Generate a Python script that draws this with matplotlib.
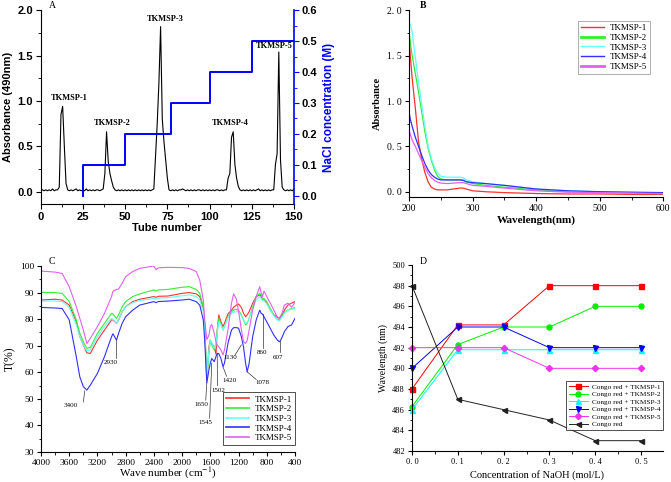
import matplotlib
matplotlib.use("Agg")
import matplotlib.pyplot as plt
from matplotlib.ticker import MultipleLocator, FuncFormatter
import numpy as np

plt.rcParams['mathtext.fontset'] = 'stix'

# ---------------- Panel A data ----------------
tubes = list(range(1, 151))
absorb = [
    0.02, 0.01, 0.02, 0.01, 0.02, 0.01, 0.03, 0.01, 0.02, 0.02,   # 1-10
    0.05, 0.85, 0.94, 0.50, 0.09, 0.02, 0.01, 0.02, 0.01, 0.02,   # 11-20
    0.03, 0.01, 0.02, 0.01, 0.02, 0.01, 0.03, 0.01, 0.02, 0.01,   # 21-30
    0.02, 0.01, 0.02, 0.02, 0.01, 0.02, 0.03, 0.20, 0.66, 0.33,   # 31-40
    0.20, 0.12, 0.05, 0.02, 0.01, 0.02, 0.01, 0.02, 0.01, 0.02,   # 41-50
    0.01, 0.02, 0.01, 0.02, 0.01, 0.02, 0.01, 0.02, 0.01, 0.02,   # 51-60
    0.01, 0.02, 0.01, 0.02, 0.01, 0.02, 0.03, 0.40, 0.75, 1.20,   # 61-70
    1.82, 0.80, 0.55, 0.35, 0.15, 0.02, 0.01, 0.02, 0.01, 0.02,   # 71-80
    0.01, 0.02, 0.02, 0.03, 0.02, 0.01, 0.02, 0.01, 0.02, 0.01,   # 81-90
    0.02, 0.01, 0.02, 0.02, 0.01, 0.02, 0.01, 0.02, 0.01, 0.02,   # 91-100
    0.01, 0.02, 0.01, 0.02, 0.02, 0.01, 0.02, 0.01, 0.02, 0.02,   # 101-110
    0.15, 0.20, 0.60, 0.66, 0.30, 0.15, 0.06, 0.02, 0.01, 0.02,   # 111-120
    0.01, 0.02, 0.01, 0.02, 0.01, 0.02, 0.01, 0.02, 0.03, 0.01,   # 121-130
    0.02, 0.01, 0.02, 0.01, 0.02, 0.01, 0.02, 0.02, 0.30, 0.42,   # 131-140
    1.54, 0.35, 0.05, 0.02, 0.01, 0.02, 0.01, 0.02, 0.01, 0.03,   # 141-150
]
nacl_tube = [25, 25, 50, 50, 77, 77, 100, 100, 125, 125, 150]
nacl_conc = [0.0, 0.1, 0.1, 0.2, 0.2, 0.3, 0.3, 0.4, 0.4, 0.5, 0.5]
peak_names = ["TKMSP-1", "TKMSP-2", "TKMSP-3", "TKMSP-4", "TKMSP-5"]
peak_label_x = [17, 42.6, 74, 112.5, 138.2]
peak_label_y = [1.037, 0.754, 1.904, 0.754, 1.607]

# ---------------- Panel B data ----------------
sample_names = ["TKMSP-1", "TKMSP-2", "TKMSP-3", "TKMSP-4", "TKMSP-5"]
uv_wl = [200, 202, 205, 210, 215, 220, 225, 230, 235, 240, 245, 250, 260,
         270, 280, 285, 290, 300, 320, 350, 400, 450, 500, 550, 600]
uv_1 = [1.75, 1.50, 1.25, 0.92, 0.55, 0.36, 0.21, 0.11, 0.05, 0.03, 0.02, 0.02, 0.02,
        0.03, 0.04, 0.04, 0.03, 0.01, 0.00, -0.01, -0.02, -0.025, -0.025, -0.03, -0.03]
uv_2 = [1.76, 1.65, 1.50, 1.30, 1.10, 0.88, 0.66, 0.48, 0.35, 0.24, 0.17, 0.14, 0.13,
        0.13, 0.13, 0.13, 0.11, 0.09, 0.07, 0.05, 0.02, 0.00, -0.01, -0.015, -0.02]
uv_3 = [1.86, 1.85, 1.76, 1.48, 1.20, 0.96, 0.72, 0.51, 0.37, 0.27, 0.21, 0.17, 0.16,
        0.16, 0.16, 0.155, 0.13, 0.11, 0.09, 0.07, 0.03, 0.01, 0.00, -0.01, -0.015]
uv_4 = [0.88, 0.80, 0.72, 0.60, 0.50, 0.40, 0.31, 0.24, 0.19, 0.16, 0.14, 0.13, 0.13,
        0.13, 0.13, 0.125, 0.11, 0.10, 0.09, 0.07, 0.03, 0.01, 0.00, -0.005, -0.01]
uv_5 = [0.68, 0.63, 0.57, 0.50, 0.42, 0.34, 0.27, 0.20, 0.155, 0.125, 0.105, 0.095, 0.09,
        0.095, 0.10, 0.10, 0.09, 0.07, 0.06, 0.04, 0.01, -0.005, -0.01, -0.015, -0.02]

# ---------------- Panel C data ----------------
wn = [4000, 3800, 3700, 3600, 3500, 3450, 3400, 3350, 3300, 3200, 3100, 3000, 2980,
      2930, 2900, 2850, 2800, 2700, 2600, 2400, 2370, 2340, 2200, 2000, 1900, 1800,
      1750, 1700, 1680, 1650, 1620, 1600, 1580, 1545, 1520, 1502, 1480, 1450, 1420,
      1400, 1350, 1300, 1270, 1230, 1200, 1160, 1130, 1100, 1078, 1050, 1000, 950,
      900, 880, 860, 840, 800, 750, 700, 650, 620, 607, 580, 550, 500, 450, 400]
ir_1 = [87.2, 87.5, 87.2, 85.3, 79.0, 73.4, 70.3, 67.3, 67.1, 72.1, 75.9, 79.7, 79.7,
        78.4, 79.7, 82.8, 84.7, 86.6, 87.5, 88.5, 88.2, 88.6, 88.7, 89.7, 90.0, 89.5,
        88.5, 84.0, 78.4, 57.0, 69.6, 72.1, 70.9, 69.6, 66.8, 75.9, 81.6, 79.0, 77.2,
        78.4, 82.0, 83.4, 84.5, 85.3, 85.7, 84.4, 82.2, 80.9, 81.6, 82.8, 86.0, 88.5,
        89.1, 88.5, 87.2, 87.2, 86.0, 83.4, 81.6, 80.7, 80.3, 80.9, 81.6, 83.4, 85.3,
        86.0, 86.6]
ir_2 = [90.1, 90.0, 89.7, 86.6, 79.7, 74.7, 71.5, 69.0, 69.4, 74.7, 78.4, 82.2, 81.9,
        80.3, 81.6, 84.7, 86.6, 88.5, 89.5, 91.0, 90.6, 91.0, 91.2, 92.0, 92.2, 91.2,
        89.7, 84.7, 77.2, 57.0, 67.1, 72.1, 70.3, 68.4, 70.9, 75.9, 80.3, 78.4, 75.9,
        77.2, 81.0, 82.8, 83.5, 83.6, 83.4, 81.6, 79.7, 77.8, 78.4, 80.3, 84.7, 88.5,
        89.7, 89.1, 87.8, 87.8, 86.6, 84.0, 81.6, 79.9, 79.7, 80.3, 81.2, 82.8, 83.4,
        84.0, 84.4]
ir_3 = [86.8, 86.8, 86.6, 84.4, 77.8, 73.4, 70.3, 68.1, 68.4, 73.4, 77.2, 80.3, 79.9,
        78.4, 79.7, 82.8, 84.7, 86.2, 87.0, 87.8, 87.5, 87.9, 88.1, 88.8, 89.1, 88.5,
        87.2, 82.8, 75.9, 58.3, 68.4, 72.1, 71.1, 69.0, 70.3, 74.7, 79.0, 77.8, 75.9,
        77.2, 80.5, 82.2, 82.6, 82.8, 82.8, 81.2, 79.7, 78.4, 78.7, 80.3, 84.0, 87.2,
        88.5, 87.8, 87.0, 87.0, 85.7, 83.4, 81.2, 79.7, 79.4, 79.9, 80.9, 82.2, 83.4,
        83.7, 84.0]
ir_4 = [84.4, 84.2, 84.0, 79.7, 65.9, 58.3, 54.6, 53.3, 55.2, 59.6, 65.9, 73.4, 74.5,
        72.1, 74.7, 78.4, 80.9, 83.4, 85.3, 86.6, 86.2, 86.6, 86.8, 87.2, 87.5, 86.6,
        85.3, 79.7, 72.1, 56.0, 60.9, 63.4, 65.2, 64.0, 65.9, 67.1, 67.0, 65.2, 62.1,
        63.4, 70.9, 75.9, 76.8, 76.8, 76.6, 73.4, 69.6, 63.4, 60.2, 63.4, 73.4, 79.7,
        83.4, 82.2, 81.9, 80.9, 79.0, 76.5, 74.0, 72.1, 71.5, 71.9, 73.4, 75.3, 77.2,
        77.8, 80.3]
ir_5 = [98.1, 97.7, 97.2, 92.2, 84.7, 80.3, 75.9, 70.8, 72.8, 77.2, 82.2, 88.5, 90.5,
        91.2, 91.3, 93.5, 96.0, 97.9, 99.1, 100.0, 98.6, 99.3, 99.5, 99.4, 99.1, 97.9,
        94.7, 87.2, 80.0, 72.3, 74.0, 77.2, 78.0, 74.7, 71.5, 70.3, 69.6, 68.4, 66.5,
        68.4, 76.0, 86.0, 89.5, 87.5, 83.0, 76.0, 71.5, 70.9, 72.0, 75.9, 83.4, 88.5,
        92.2, 90.0, 88.5, 90.5, 88.5, 86.0, 83.4, 80.7, 80.5, 81.0, 82.5, 85.3, 86.0,
        84.5, 86.2]
ir_labels = ["3400", "2930", "1650", "1545", "1502", "1420", "1130", "1078", "860", "607"]
ir_label_x = [3575, 3008, 1722, 1666, 1487, 1322, 1322, 858, 872, 645]
ir_label_y = [47.4, 63.8, 47.7, 41.0, 53.0, 56.8, 65.5, 56.2, 67.4, 65.6]
ir_line_x0 = [3380, 2930, 1650, 1580, 1502, 1420, 1160, 1080, 860, 607]
ir_line_y0 = [53.0, 72.0, 56.0, 63.4, 67.0, 62.0, 70.3, 60.2, 81.8, 71.8]
ir_line_x1 = [3400, 2930, 1665, 1610, 1500, 1370, 1250, 950, 860, 607]
ir_line_y1 = [48.8, 65.5, 49.5, 42.7, 55.0, 58.5, 66.5, 57.3, 69.2, 67.8]

# ---------------- Panel D data ----------------
naoh = [0.0, 0.1, 0.2, 0.3, 0.4, 0.5]
d_names = ["Congo red + TKMSP-1", "Congo red + TKMSP-2", "Congo red + TKMSP-3",
           "Congo red + TKMSP-4", "Congo red + TKMSP-5", "Congo red"]
d_vals = {
    "Congo red + TKMSP-1": [488.0, 494.2, 494.2, 498.0, 498.0, 498.0],
    "Congo red + TKMSP-2": [486.3, 492.3, 494.0, 494.0, 496.0, 496.0],
    "Congo red + TKMSP-3": [486.0, 491.8, 491.8, 491.8, 491.8, 491.8],
    "Congo red + TKMSP-4": [490.0, 494.0, 494.0, 492.0, 492.0, 492.0],
    "Congo red + TKMSP-5": [492.0, 492.0, 492.0, 490.0, 490.0, 490.0],
    "Congo red": [498.0, 487.0, 486.0, 485.0, 483.0, 483.0],
}

# ---------------- Figure ----------------
W, H = 671, 482
fig = plt.figure(figsize=(W / 100, H / 100), dpi=100)

def rect(l, r, t, b):
    return [l / W, 1 - b / H, (r - l) / W, (b - t) / H]

SANSB = dict(family="Liberation Sans", weight="bold")
SERIF = "Liberation Serif"

# ===== Panel A =====
axA = fig.add_axes(rect(40.7, 294, 10.3, 204))
axA.plot(tubes, absorb, color="black", lw=0.8)
axA.set_xlim(0, 150)
axA.set_ylim(-0.136, 2.0)
axA.xaxis.set_major_locator(MultipleLocator(25))
axA.xaxis.set_minor_locator(MultipleLocator(12.5))
axA.yaxis.set_major_locator(MultipleLocator(0.5))
axA.yaxis.set_minor_locator(MultipleLocator(0.25))
axA.yaxis.set_major_formatter(FuncFormatter(lambda v, p: f"{v:.1f}"))
axA.spines["top"].set_visible(False)
axA.spines["right"].set_visible(False)
axA.tick_params(direction="out", length=3.5, width=0.8, labelsize=8, pad=2)
axA.tick_params(which="minor", direction="out", length=2, width=0.6)
for lab in axA.get_xticklabels() + axA.get_yticklabels():
    lab.set_fontfamily("Liberation Sans"); lab.set_fontweight("bold")
axA.set_xlabel("Tube number", fontsize=8, labelpad=1, **SANSB)
axA.set_ylabel("Absorbance (490nm)", fontsize=8, labelpad=3, **SANSB)
for name, lx, ly in zip(peak_names, peak_label_x, peak_label_y):
    axA.text(lx, ly, name, ha="center", va="center", fontsize=6,
             family=SERIF, weight="bold")

axA2 = axA.twinx()
axA2.plot(nacl_tube, nacl_conc, color="#0000ff", lw=1.4)
axA2.set_ylim(-0.027, 0.6)
axA2.yaxis.set_major_locator(MultipleLocator(0.1))
axA2.yaxis.set_minor_locator(MultipleLocator(0.05))
axA2.yaxis.set_major_formatter(FuncFormatter(lambda v, p: f"{v:.1f}"))
axA2.spines["top"].set_visible(False)
axA2.spines["left"].set_visible(False)
axA2.spines["bottom"].set_visible(False)
axA2.spines["right"].set_color("#0000ff")
axA2.spines["right"].set_linewidth(1.2)
axA2.tick_params(axis="y", direction="out", length=3.5, width=0.8, labelsize=8,
                 color="#0000ff", pad=2)
axA2.tick_params(axis="y", which="minor", direction="out", length=2, width=0.6,
                 color="#0000ff")
for lab in axA2.get_yticklabels():
    lab.set_fontfamily("Liberation Sans"); lab.set_fontweight("bold")
axA2.set_ylabel("NaCl concentration (M)", fontsize=8.5, color="#0000ff",
                labelpad=4, **SANSB)
fig.text(52 / W, 1 - 6 / H, "A", fontsize=7, family=SERIF, ha="center", va="center")

# ===== Panel B =====
uv_colors = ["#ff3030", "#33ee33", "#66ffff", "#3030ff", "#e060f0"]
uv_leg_lw = [1.0, 2.0, 1.0, 1.0, 2.0]
axB = fig.add_axes(rect(409, 663.3, 10.3, 196.7))
for nm, vals, c, lw in zip(sample_names, [uv_1, uv_2, uv_3, uv_4, uv_5], uv_colors, uv_leg_lw):
    axB.plot(uv_wl, vals, color=c, lw=0.9, label=nm)
axB.set_xlim(200, 600)
axB.set_ylim(-0.055, 2.0)
axB.xaxis.set_major_locator(MultipleLocator(100))
axB.xaxis.set_minor_locator(MultipleLocator(50))
axB.yaxis.set_major_locator(MultipleLocator(0.5))
axB.yaxis.set_minor_locator(MultipleLocator(0.25))
axB.yaxis.set_major_formatter(FuncFormatter(lambda v, p: f"{v:.1f}".replace(".", ". ")))
axB.spines["top"].set_visible(False)
axB.spines["right"].set_visible(False)
axB.tick_params(direction="out", length=3, width=0.8, labelsize=7, pad=2)
axB.tick_params(which="minor", direction="out", length=1.8, width=0.6)
for lab in axB.get_xticklabels() + axB.get_yticklabels():
    lab.set_fontfamily(SERIF)
axB.set_xlabel("Wavelength(nm)", fontsize=8, family=SERIF, weight="bold", labelpad=2)
axB.set_ylabel("Absorbance", fontsize=7.5, family=SERIF, weight="bold", labelpad=4)
legB = axB.legend(loc="upper right", bbox_to_anchor=(0.948, 0.944), frameon=True,
                  fancybox=False, edgecolor="#888888", prop=dict(family=SERIF, size=6.5),
                  handlelength=2.6, handletextpad=0.6, labelspacing=0.15,
                  borderpad=0.35, borderaxespad=0)
legB.get_frame().set_linewidth(0.6)
for line, lw in zip(legB.get_lines(), uv_leg_lw):
    line.set_linewidth(lw)
fig.text(423 / W, 1 - 6 / H, "B", fontsize=7, family=SERIF, weight="bold",
         ha="center", va="center")

# ===== Panel C =====
ir_colors = ["#ff3030", "#33ee33", "#66ffff", "#3030ff", "#e060f0"]
axC = fig.add_axes(rect(41, 295, 266, 452))
for nm, vals, c in zip(sample_names, [ir_1, ir_2, ir_3, ir_4, ir_5], ir_colors):
    axC.plot(wn, vals, color=c, lw=0.8, label=nm)
axC.set_xlim(4000, 400)
axC.set_ylim(30, 100)
axC.xaxis.set_major_locator(MultipleLocator(400))
axC.xaxis.set_minor_locator(MultipleLocator(200))
axC.yaxis.set_major_locator(MultipleLocator(10))
axC.yaxis.set_minor_locator(MultipleLocator(5))
axC.spines["top"].set_visible(False)
axC.spines["right"].set_visible(False)
axC.tick_params(direction="out", length=3, width=0.8, labelsize=6.8, pad=2)
axC.tick_params(which="minor", direction="out", length=1.8, width=0.6)
for lab in axC.get_xticklabels() + axC.get_yticklabels():
    lab.set_fontfamily(SERIF)
axC.set_xlabel("Wave number (cm$^{-1}$)", fontsize=8, family=SERIF)
axC.xaxis.set_label_coords(0.5, -0.075)
axC.set_ylabel("T(%)", fontsize=8.5, family=SERIF, labelpad=3)
for t, tx, ty, x0, y0, x1, y1 in zip(ir_labels, ir_label_x, ir_label_y,
                                     ir_line_x0, ir_line_y0, ir_line_x1, ir_line_y1):
    axC.plot([x0, x1], [y0, y1], color="#333333", lw=0.5)
    axC.text(tx, ty, t, fontsize=5, family=SERIF, ha="center", va="center")
legC = axC.legend(loc="lower right", bbox_to_anchor=(1.0, 0.035), frameon=True,
                  fancybox=False, edgecolor="black", prop=dict(family=SERIF, size=6.5),
                  handlelength=2.6, handletextpad=0.6, labelspacing=0.15,
                  borderpad=0.35, borderaxespad=0)
legC.get_frame().set_linewidth(0.6)
for line in legC.get_lines():
    line.set_linewidth(1.2)
fig.text(52 / W, 1 - 262 / H, "C", fontsize=7, family=SERIF, ha="center", va="center")

# ===== Panel D =====
d_colors = ["#ff0000", "#00ee00", "#00ffff", "#0000ff", "#ee33ee", "#222222"]
d_markers = ["s", "o", "^", "v", "D", "<"]
axD = fig.add_axes(rect(412, 663, 265, 451))
for nm, c, m in zip(d_names, d_colors, d_markers):
    axD.plot(naoh, d_vals[nm], color=c, lw=0.7, marker=m,
             markersize=3.6 if m != "D" else 3.2, label=nm, clip_on=False)
axD.set_xlim(0, 0.548)
axD.set_ylim(482, 500)
axD.xaxis.set_major_locator(MultipleLocator(0.1))
axD.xaxis.set_minor_locator(MultipleLocator(0.05))
axD.yaxis.set_major_locator(MultipleLocator(2))
axD.yaxis.set_minor_locator(MultipleLocator(1))
axD.xaxis.set_major_formatter(FuncFormatter(lambda v, p: f"{v:.1f}".replace(".", ". ")))
axD.spines["top"].set_visible(False)
axD.spines["right"].set_visible(False)
axD.tick_params(direction="out", length=3, width=0.8, labelsize=6, pad=2)
axD.tick_params(which="minor", direction="out", length=1.8, width=0.6)
for lab in axD.get_xticklabels() + axD.get_yticklabels():
    lab.set_fontfamily(SERIF)
axD.set_xlabel("Concentration of NaOH (mol/L)", fontsize=7.5, family=SERIF, labelpad=3)
axD.set_ylabel("Wavelength (nm)", fontsize=7, family=SERIF, labelpad=3)
legD = axD.legend(loc="lower right", bbox_to_anchor=(1.0, 0.113), frameon=True,
                  fancybox=False, edgecolor="black", prop=dict(family=SERIF, size=5.2),
                  handlelength=2.6, handletextpad=0.6, labelspacing=0.2,
                  borderpad=0.35, borderaxespad=0)
legD.get_frame().set_linewidth(0.6)
fig.text(423 / W, 1 - 262 / H, "D", fontsize=7, family=SERIF, ha="center", va="center")

fig.savefig("out.png", dpi=100)
